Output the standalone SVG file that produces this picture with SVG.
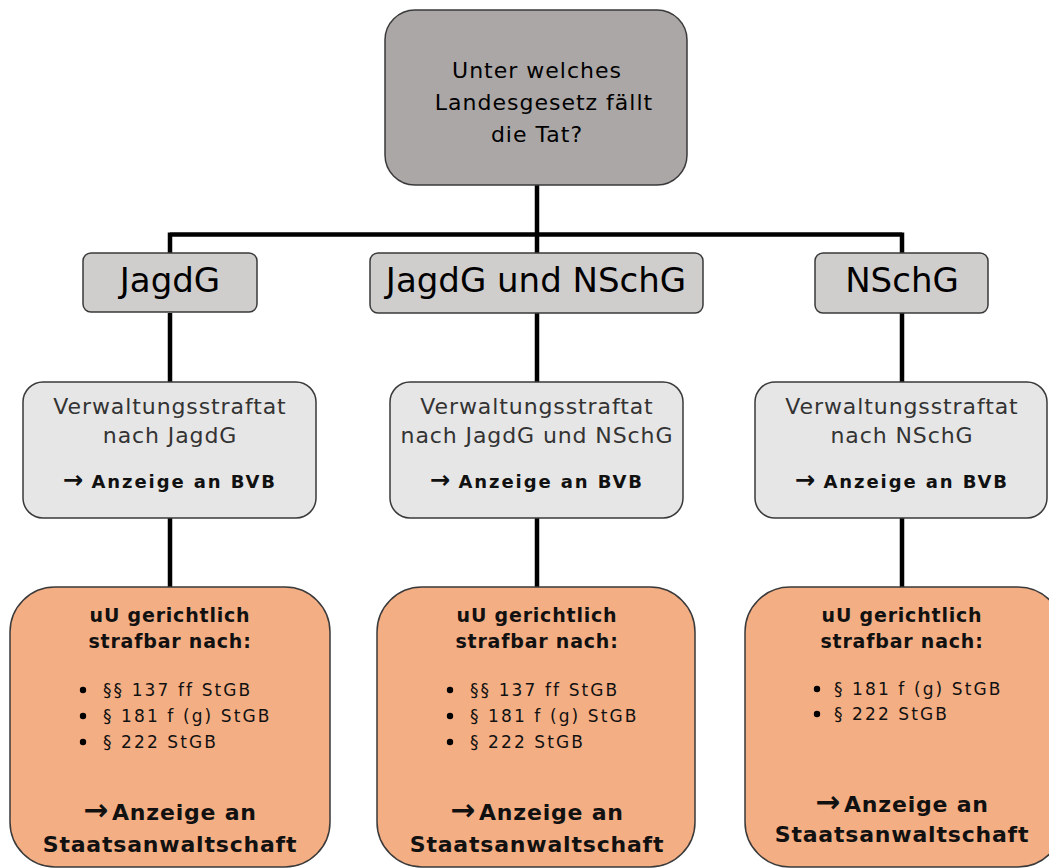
<svg xmlns="http://www.w3.org/2000/svg" width="1049" height="868" viewBox="0 0 1049 868">
<style>
text{font-family:"DejaVu Sans","Verdana","Liberation Sans",sans-serif;text-anchor:middle;fill:#111}
.top{fill:#aba7a6;stroke:#3a3a3a;stroke-width:1.5}
.law{fill:#d0cdcd;stroke:#3a3a3a;stroke-width:1.5}
.adm{fill:#e6e6e6;stroke:#3a3a3a;stroke-width:1.5}
.crim{fill:#f4ae84;stroke:#3a3a3a;stroke-width:1.5}
.q{font-size:22px;letter-spacing:1px;fill:#000}
.lawt{font-size:34px;fill:#000}
.admt{font-size:22px;letter-spacing:0.9px;fill:#333}
.admb{font-size:18px;font-weight:bold;letter-spacing:1.9px}
.cb{font-size:19px;font-weight:bold;letter-spacing:0.8px}
.li{font-size:17px;letter-spacing:2.1px;text-anchor:start}
.ca{font-size:22px;font-weight:bold;letter-spacing:0.8px}
.arr{font-size:1.35em;letter-spacing:0}
.conn{stroke:#000;stroke-width:4.5;fill:none}
</style>
<g id="connectors">
<path class="conn" d="M537 185V234.5M170 234.5H902M170 232.5V253M537 234.5V253M902 232.5V253"/>
<path class="conn" d="M170 313V382M537 313V382M902 313V382"/>
<path class="conn" d="M170 518V587M537 518V587M902 518V587"/>
</g>
<g id="question">
<rect class="top" x="385" y="10" width="302" height="175" rx="30"/>
<text class="q" x="537" y="78">Unter welches</text>
<text class="q" x="544" y="110">Landesgesetz fällt</text>
<text class="q" x="537" y="142">die Tat?</text>
</g>
<g id="law-jagdg">
<rect class="law" x="83" y="253" width="174" height="59" rx="8"/>
<text class="lawt" x="170" y="292">JagdG</text>
</g>
<g id="law-both">
<rect class="law" x="370" y="253" width="333" height="60" rx="8"/>
<text class="lawt" x="536" y="292">JagdG und NSchG</text>
</g>
<g id="law-nschg">
<rect class="law" x="815" y="253" width="173" height="60" rx="8"/>
<text class="lawt" x="902" y="292">NSchG</text>
</g>
<g id="adm-jagdg">
<rect class="adm" x="23" y="382" width="293" height="136" rx="20"/>
<text class="admt" x="170" y="414">Verwaltungsstraftat</text>
<text class="admt" x="170" y="443">nach JagdG</text>
<text class="admb" x="170" y="488"><tspan class="arr">→</tspan> Anzeige an BVB</text>
</g>
<g id="adm-both">
<rect class="adm" x="390" y="382" width="293" height="136" rx="20"/>
<text class="admt" x="537" y="414">Verwaltungsstraftat</text>
<text class="admt" x="537" y="443">nach JagdG und NSchG</text>
<text class="admb" x="537" y="488"><tspan class="arr">→</tspan> Anzeige an BVB</text>
</g>
<g id="adm-nschg">
<rect class="adm" x="755" y="382" width="292" height="136" rx="20"/>
<text class="admt" x="902" y="414">Verwaltungsstraftat</text>
<text class="admt" x="902" y="443">nach NSchG</text>
<text class="admb" x="902" y="488"><tspan class="arr">→</tspan> Anzeige an BVB</text>
</g>
<g id="crim-jagdg">
<rect class="crim" x="10" y="587" width="320" height="280" rx="45"/>
<text class="cb" x="170" y="622">uU gerichtlich</text>
<text class="cb" x="170" y="648">strafbar nach:</text>
<circle cx="83" cy="690" r="3.2"/><text class="li" x="103" y="696">§§ 137 ff StGB</text>
<circle cx="83" cy="716" r="3.2"/><text class="li" x="103" y="722">§ 181 f (g) StGB</text>
<circle cx="83" cy="742" r="3.2"/><text class="li" x="103" y="748">§ 222 StGB</text>
<text class="ca" x="170" y="820"><tspan class="arr">→</tspan><tspan dx="4">Anzeige an</tspan></text>
<text class="ca" x="170" y="852">Staatsanwaltschaft</text>
</g>
<g id="crim-both">
<rect class="crim" x="377" y="587" width="318" height="280" rx="45"/>
<text class="cb" x="537" y="622">uU gerichtlich</text>
<text class="cb" x="537" y="648">strafbar nach:</text>
<circle cx="450" cy="690" r="3.2"/><text class="li" x="470" y="696">§§ 137 ff StGB</text>
<circle cx="450" cy="716" r="3.2"/><text class="li" x="470" y="722">§ 181 f (g) StGB</text>
<circle cx="450" cy="742" r="3.2"/><text class="li" x="470" y="748">§ 222 StGB</text>
<text class="ca" x="537" y="820"><tspan class="arr">→</tspan><tspan dx="4">Anzeige an</tspan></text>
<text class="ca" x="537" y="852">Staatsanwaltschaft</text>
</g>
<g id="crim-nschg">
<rect class="crim" x="745" y="587" width="318" height="280" rx="45"/>
<text class="cb" x="902" y="622">uU gerichtlich</text>
<text class="cb" x="902" y="648">strafbar nach:</text>
<circle cx="817" cy="689" r="3.2"/><text class="li" x="834" y="695">§ 181 f (g) StGB</text>
<circle cx="817" cy="714" r="3.2"/><text class="li" x="834" y="720">§ 222 StGB</text>
<text class="ca" x="902" y="812"><tspan class="arr">→</tspan><tspan dx="4">Anzeige an</tspan></text>
<text class="ca" x="902" y="842">Staatsanwaltschaft</text>
</g>
</svg>
